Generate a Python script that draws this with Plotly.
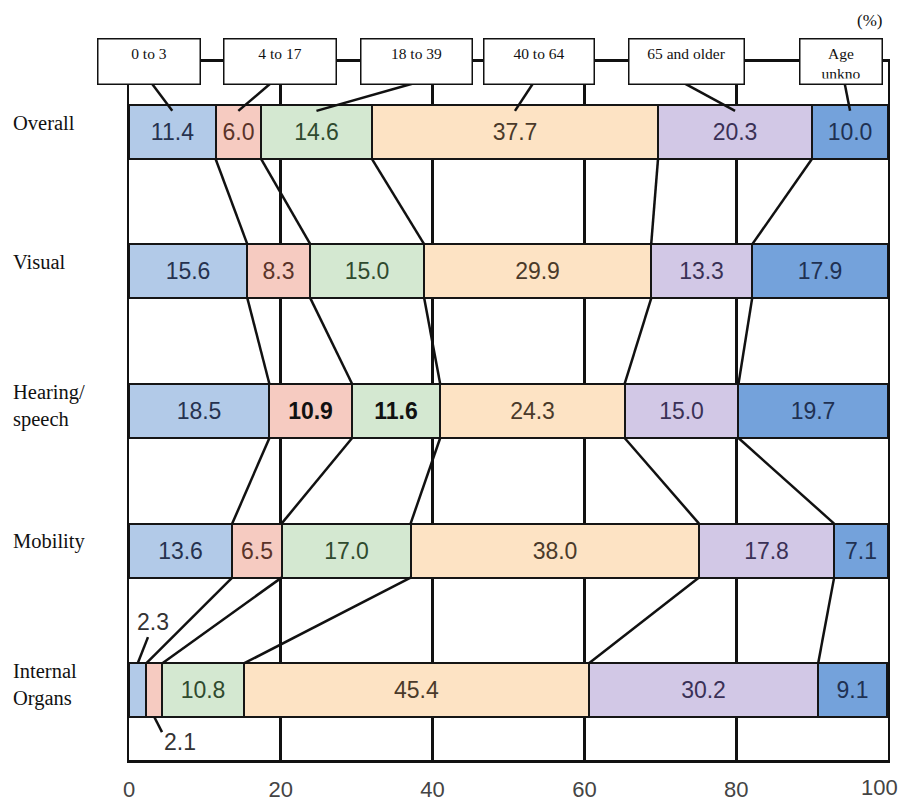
import plotly.graph_objects as go

# Age distribution (%) by type of disability
rows = ["Overall", "Visual", "Hearing/<br>speech", "Mobility", "Internal<br>Organs"]
groups = ["0 to 3", "4 to 17", "18 to 39", "40 to 64", "65 and older", "Age<br>unkno"]

age_0_3 = [11.4, 15.6, 18.5, 13.6, 2.3]
age_4_17 = [6.0, 8.3, 10.9, 6.5, 2.1]
age_18_39 = [14.6, 15.0, 11.6, 17.0, 10.8]
age_40_64 = [37.7, 29.9, 24.3, 38.0, 45.4]
age_65_up = [20.3, 13.3, 15.0, 17.8, 30.2]
age_unknown = [10.0, 17.9, 19.7, 7.1, 9.1]

tick_vals = [0, 20, 40, 60, 80, 100]
tick_text = ["0", "20", "40", "60", "80", "100"]

series = [age_0_3, age_4_17, age_18_39, age_40_64, age_65_up, age_unknown]
fills = ["#b2cae8", "#f6cbc1", "#d4e8d1", "#fde3c4", "#d2c8e6", "#74a2db"]
ink = ["#26324f", "#5a3328", "#2f4a2e", "#4a3a2a", "#3a3156", "#1f3152"]

BAR_W = 0.387
ypos = list(range(len(rows)))
SANS = "Liberation Sans"
SERIF = "Liberation Serif"
LABEL_SIZE = 23
TICK_FONT = dict(family=SANS, size=22, color="#444444")

fig = go.Figure()

# stacked segments
for g, (vals, fc, tc) in enumerate(zip(series, fills, ink)):
    texts, colors = [], []
    for r, v in enumerate(vals):
        t = f"{v:.1f}"
        c = tc
        if r == 4 and g in (0, 1):
            t = ""  # labelled outside with leaders
        if r == 2 and g in (1, 2):
            t = f"<b>{t}</b>"
            c = "#111111"
        texts.append(t)
        colors.append(c)
    fig.add_trace(go.Bar(
        x=vals, y=ypos, orientation="h", width=BAR_W,
        marker=dict(color=fc, line=dict(color="#151515", width=2)),
        text=texts, textposition="inside", insidetextanchor="middle",
        textangle=0, textfont=dict(family=SANS, size=LABEL_SIZE, color=colors),
        hoverinfo="skip", showlegend=False,
    ))

# cumulative boundaries per row
cums = []
for r in range(len(rows)):
    acc, c = 0.0, []
    for s in series[:-1]:
        acc += s[r]
        c.append(acc)
    cums.append(c)

# connectors between consecutive bars
cx, cy = [], []
for r in range(len(rows) - 1):
    for k in range(len(cums[r])):
        cx += [cums[r][k], cums[r + 1][k], None]
        cy += [r + BAR_W / 2, r + 1 - BAR_W / 2, None]
fig.add_trace(go.Scatter(x=cx, y=cy, mode="lines",
                         line=dict(color="#111111", width=2.5),
                         hoverinfo="skip", showlegend=False))

# header boxes for the age groups, with leaders into the "Overall" bar
box_cx = [2.57, 19.83, 37.94, 53.96, 73.4, 93.8]
box_w = [103, 113, 112, 111, 116, 83]
leader_x0 = [3.03, 18.6, 37.3, 53.2, 73.3, 94.3]
mids = []
acc = 0.0
for s in series:
    mids.append(acc + s[0] / 2)
    acc += s[0]

lx, ly = [], []
for x0, m in zip(leader_x0, mids):
    lx += [x0, m, None]
    ly += [-0.344, -0.15, None]
fig.add_trace(go.Scatter(x=lx, y=ly, mode="lines",
                         line=dict(color="#111111", width=2.5),
                         hoverinfo="skip", showlegend=False))

PAD = 5
annotations = []
for name, xc, w in zip(groups, box_cx, box_w):
    annotations.append(dict(
        text=name, x=xc, xref="x", y=1.001, yref="paper",
        xanchor="center", yanchor="middle", showarrow=False,
        width=w - 2 * PAD - 2, height=46 - 2 * PAD - 2,
        valign="top", align="center",
        bgcolor="white", bordercolor="#111111", borderwidth=1.5, borderpad=PAD,
        font=dict(family=SERIF, size=15.5, color="#111111"),
    ))

# row titles
for r, name in enumerate(rows):
    off = 0.035 if "<br>" in name else 0.065
    annotations.append(dict(
        text=name, x=-0.156, xref="paper", y=r - off, yref="y",
        xanchor="left", yanchor="middle", align="left", showarrow=False,
        font=dict(family=SERIF, size=20.5, color="#111111"),
    ))

# small segments of the last row, labelled outside
io = len(rows) - 1
a0 = age_0_3[io]
a1 = age_4_17[io]
fig.add_trace(go.Scatter(
    x=[2.5, a0 / 2, None, 4.35, a0 + a1 / 2],
    y=[3.62, io - BAR_W / 2, None, 4.30, io + BAR_W / 2],
    mode="lines", line=dict(color="#111111", width=2.5),
    hoverinfo="skip", showlegend=False))
annotations.append(dict(text=f"{a0:.1f}", x=3.1, y=3.51, xref="x", yref="y",
                        xanchor="center", yanchor="middle", showarrow=False,
                        font=dict(family=SANS, size=LABEL_SIZE, color="#333333")))
annotations.append(dict(text=f"{a1:.1f}", x=6.7, y=4.37, xref="x", yref="y",
                        xanchor="center", yanchor="middle", showarrow=False,
                        font=dict(family=SANS, size=LABEL_SIZE, color="#333333")))

# the last tick label sits flush against the right edge of the page
annotations.append(dict(text=tick_text[-1], x=tick_vals[-1], xref="x",
                        y=0, yref="paper", xanchor="right", yanchor="top",
                        xshift=12, yshift=-13, showarrow=False, font=TICK_FONT))

annotations.append(dict(text="(%)", x=0.975, y=1.06, xref="paper", yref="paper",
                        xanchor="center", yanchor="middle", showarrow=False,
                        font=dict(family=SERIF, size=17, color="#111111")))

fig.update_layout(
    width=906, height=804,
    margin=dict(l=129, r=18, t=62, b=44, autoexpand=False),
    barmode="stack", bargap=0,
    plot_bgcolor="white", paper_bgcolor="white",
    uniformtext=dict(minsize=LABEL_SIZE, mode="show"),
    annotations=annotations,
    xaxis=dict(range=[0, 100], tickvals=tick_vals,
               ticktext=tick_text[:-1] + [""],
               automargin=False,
               showgrid=True, gridcolor="#111111", gridwidth=2.5,
               zeroline=False, showline=True, mirror=True,
               linecolor="#111111", linewidth=2.5, ticks="",
               ticklabelstandoff=8, tickfont=TICK_FONT),
    yaxis=dict(range=[4.5, -0.5], showticklabels=False, showgrid=False,
               automargin=False,
               zeroline=False, showline=True, mirror=True,
               linecolor="#111111", linewidth=2),
)

fig.write_html("out.html")
